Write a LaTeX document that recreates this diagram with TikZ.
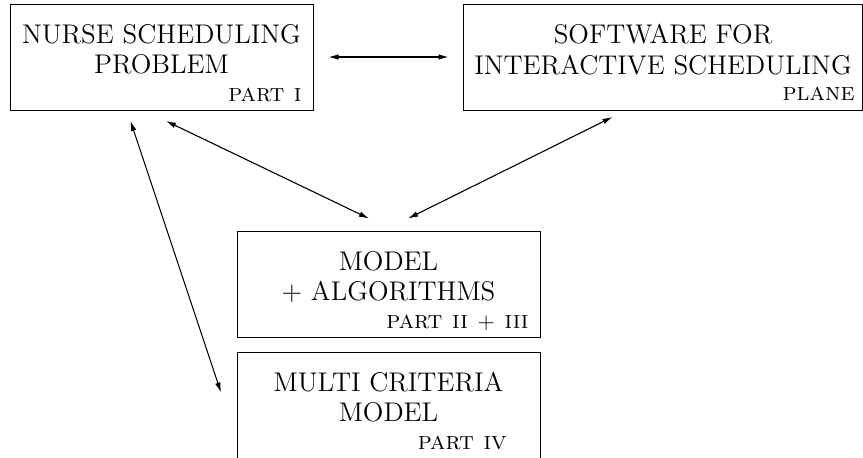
\documentclass[tikz,border=0pt]{standalone}
\usetikzlibrary{arrows.meta}
\begin{document}
\begin{tikzpicture}[x=0.5pt,y=-0.5pt,
  blockbox/.style={draw,line width=0.5pt,inner sep=0pt,minimum height=53pt},
  titleline/.style={inner sep=0pt,anchor=base,font=\fontsize{13.5}{16}\selectfont},
  partlabel/.style={inner sep=0pt,anchor=base east,font=\fontsize{12.6}{15}\selectfont\scshape},
  link/.style={line width=0.55pt,{Latex[length=5pt,width=2.8pt]}-{Latex[length=5pt,width=2.8pt]}}]
\useasboundingbox (0,0) rectangle (863,457);

% the four blocks
\node[blockbox,minimum width=151.5pt] (nsp) at (161.5,57) {};
\node[blockbox,minimum width=199.5pt] (sis) at (662.5,57) {};
\node[blockbox,minimum width=151.5pt] (mal) at (388.5,284) {};
\node[blockbox,minimum width=151.5pt] (mcm) at (388.5,405) {};

% block texts
\node[titleline] (nsp1) at (161.5,43) {NURSE SCHEDULING};
\node[titleline] (nsp2) at (161.5,73.5) {PROBLEM};
\node[partlabel] (nspp) at (302,101) {part i};

\node[titleline] (sis1) at (663,43.5) {SOFTWARE FOR};
\node[titleline] (sis2) at (663,74) {INTERACTIVE SCHEDULING};
\node[partlabel] (sisp) at (855,100) {plane};

\node[titleline] (mal1) at (388.5,270) {MODEL};
\node[titleline] (mal2) at (388.5,300.5) {+ ALGORITHMS};
\node[partlabel] (malp) at (529,328) {part ii {\fontsize{10.5}{12}\selectfont+} iii};

\node[titleline] (mcm1) at (388.5,391) {MULTI CRITERIA};
\node[titleline] (mcm2) at (388.5,421.5) {MODEL};
\node[partlabel] (mcmp) at (507,449) {part iv};

% connector end points, kept clear of the blocks
\coordinate (a1) at ([shift={(15,0)}]nsp.east);
\coordinate (a2) at ([shift={(-14,0)}]sis.west);
\coordinate (b1) at ([shift={(4.5,10.5)}]nsp.south);
\coordinate (b2) at ([shift={(-19.5,-12)}]mal.north);
\coordinate (c1) at ([shift={(-50,6.5)}]sis.south);
\coordinate (c2) at ([shift={(19.5,-12)}]mal.north);
\coordinate (d1) at ([shift={(-31,10.5)}]nsp.south);
\coordinate (d2) at ([shift={(-15.5,-12.5)}]mcm.west);

\draw[link] (a1) -- (a2);
\draw[link] (b1) -- (b2);
\draw[link] (c1) -- (c2);
\draw[link] (d1) -- (d2);
\end{tikzpicture}
\end{document}
